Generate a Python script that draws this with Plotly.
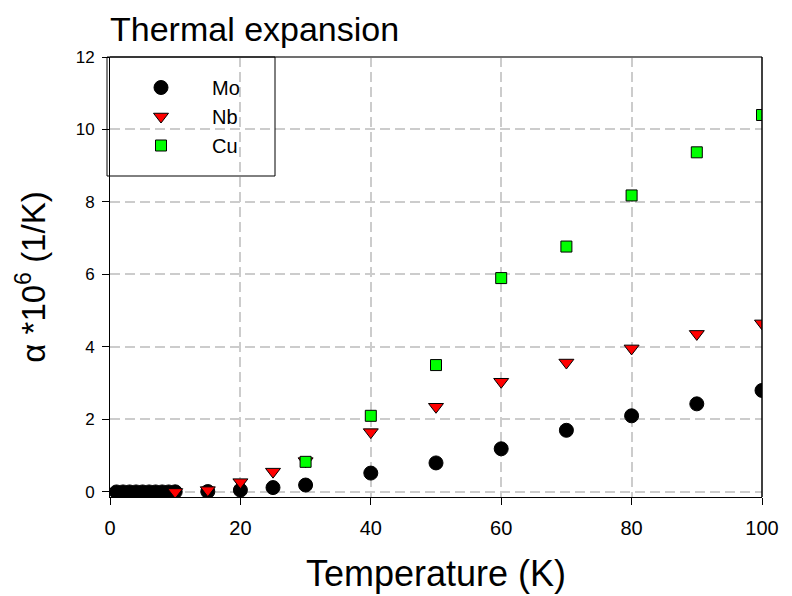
import plotly.graph_objects as go

mo_x = [1, 2, 3, 4, 5, 6, 7, 8, 9, 10, 15, 20, 25, 30, 40, 50, 60, 70, 80, 90, 100]
mo_y = [0, 0, 0, 0, 0, 0, 0, 0, 0, 0.003, 0.01, 0.05, 0.12, 0.19, 0.52, 0.8, 1.19, 1.7, 2.1, 2.43, 2.8]
nb_x = [10, 15, 20, 25, 30, 40, 50, 60, 70, 80, 90, 100]
nb_y = [0.0, 0.05, 0.27, 0.56, 0.85, 1.65, 2.35, 3.04, 3.57, 3.96, 4.36, 4.65]
cu_x = [30, 40, 50, 60, 70, 80, 90, 100]
cu_y = [0.83, 2.1, 3.5, 5.9, 6.77, 8.18, 9.37, 10.4]

FONT = "Liberation Sans, Arial, sans-serif"

# plot area in figure pixels (page has an 8px body margin)
L, R, T, B = 102, 754, 49, 489
W, H = 792, 596
PW, PH = R - L, B - T

fig = go.Figure()
fig.add_trace(go.Scatter(x=mo_x, y=mo_y, mode="markers", name="Mo", legendgroup="a",
                         marker=dict(symbol="circle", size=14, color="black",
                                     line=dict(color="black", width=1))))
fig.add_trace(go.Scatter(x=nb_x, y=nb_y, mode="markers", name="Nb", legendgroup="b",
                         marker=dict(symbol="triangle-down", size=13, color="#ff0000",
                                     line=dict(color="black", width=1))))
fig.add_trace(go.Scatter(x=cu_x, y=cu_y, mode="markers", name="Cu", legendgroup="c",
                         marker=dict(symbol="square", size=11, color="#00ff00",
                                     line=dict(color="black", width=1))))

fig.update_layout(
    width=W, height=H,
    margin=dict(l=L, r=W - R, t=T, b=H - B),
    paper_bgcolor="white", plot_bgcolor="white",
    font=dict(family=FONT, color="black"),
    title=dict(text="Thermal expansion", x=L / W, xanchor="left",
               y=1 - 9 / H, yanchor="top", pad=dict(t=0, b=0, l=0, r=0),
               font=dict(size=34, family=FONT)),
    showlegend=True,
    legend=dict(x=0, y=1 - 11 / PH, xanchor="left", yanchor="top",
                borderwidth=0, bgcolor="rgba(0,0,0,0)",
                font=dict(size=20, family=FONT), itemwidth=92,
                tracegroupgap=0),
    xaxis=dict(range=[0, 100], tickvals=[0, 20, 40, 60, 80, 100],
               ticks="outside", ticklen=7, tickcolor="black", ticklabelstandoff=6,
               showline=True, linecolor="black", linewidth=1,
               showgrid=True, gridcolor="#cccccc", griddash="10px,5px", gridwidth=1.5,
               zeroline=False, tickfont=dict(size=20),
               title=dict(text="Temperature (K)", font=dict(size=36), standoff=22)),
    yaxis=dict(range=[-0.14, 12], tickvals=[0, 2, 4, 6, 8, 10, 12],
               ticks="outside", ticklen=7, tickcolor="black", ticklabelstandoff=4,
               showline=True, linecolor="black", linewidth=1,
               showgrid=True, gridcolor="#cccccc", griddash="10px,5px", gridwidth=1.5,
               zeroline=False, tickfont=dict(size=17),
               title=dict(text="\u03b1 *10<sup>6</sup> (1/K)", font=dict(size=33), standoff=20)),
)

# top and right frame lines
fig.add_shape(type="line", xref="paper", yref="paper", x0=0, x1=1, y0=1, y1=1,
              line=dict(color="#707070", width=2))
fig.add_shape(type="line", xref="paper", yref="paper", x0=1, x1=1, y0=0, y1=1,
              line=dict(color="black", width=1.5))
# legend frame
fig.add_shape(type="rect", xref="paper", yref="paper",
              x0=-3 / PW, x1=165 / PW, y0=1 - 119 / PH, y1=1,
              line=dict(color="black", width=1))

fig.write_html("out.html")
